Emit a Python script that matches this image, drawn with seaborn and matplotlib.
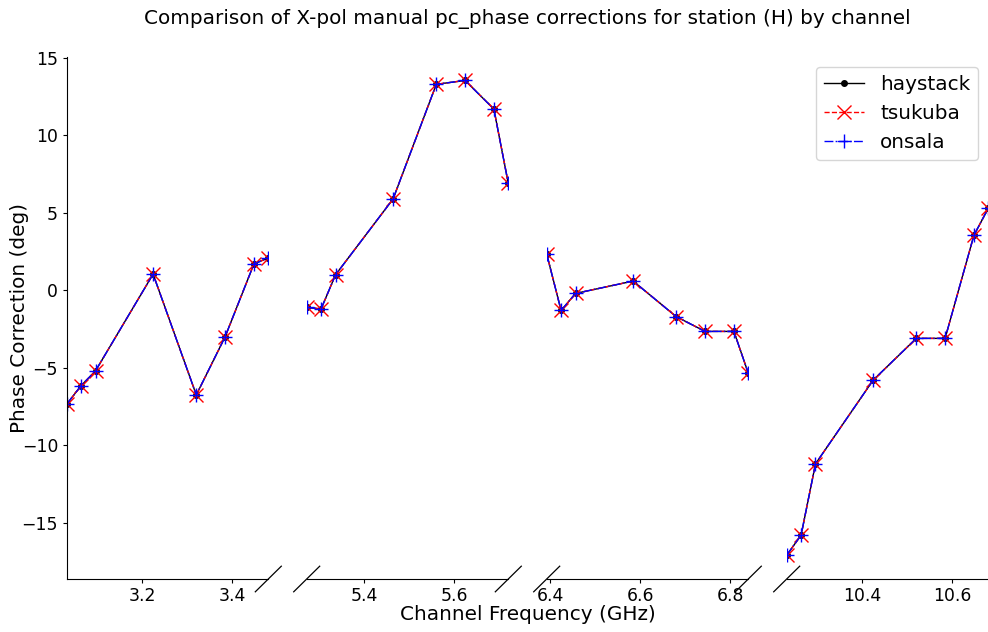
import matplotlib
matplotlib.use("Agg")
import matplotlib.pyplot as plt
import seaborn as sns
import pandas as pd
from matplotlib.lines import Line2D

# ---- data ----
band_a = [3.0324, 3.0644, 3.0964, 3.2244, 3.3204, 3.3844, 3.4484, 3.4804]
band_b = [5.2724, 5.3044, 5.3364, 5.4644, 5.5604, 5.6244, 5.6884, 5.7204]
band_c = [6.3924, 6.4244, 6.4564, 6.5844, 6.6804, 6.7444, 6.8084, 6.8404]
band_d = [10.2324, 10.2644, 10.2964, 10.4244, 10.5204, 10.5844, 10.6484, 10.6804]

haystack = [-7.35, -6.15, -5.2, 1.05, -6.75, -3.0, 1.7, 2.1,
            -1.1, -1.2, 1.0, 5.9, 13.3, 13.55, 11.7, 6.9,
            2.35, -1.3, -0.2, 0.6, -1.7, -2.65, -2.65, -5.35,
            -17.1, -15.8, -11.2, -5.8, -3.1, -3.1, 3.55, 5.3]
tsukuba = [-7.35, -6.15, -5.2, 1.05, -6.75, -3.0, 1.7, 2.1,
           -1.1, -1.2, 1.0, 5.9, 13.3, 13.55, 11.7, 6.9,
           2.35, -1.3, -0.2, 0.6, -1.7, -2.65, -2.65, -5.35,
           -17.1, -15.8, -11.2, -5.8, -3.1, -3.1, 3.55, 5.3]
onsala = [-7.35, -6.15, -5.2, 1.05, -6.75, -3.0, 1.7, 2.1,
          -1.1, -1.2, 1.0, 5.9, 13.3, 13.55, 11.7, 6.9,
          2.35, -1.3, -0.2, 0.6, -1.7, -2.65, -2.65, -5.35,
          -17.1, -15.8, -11.2, -5.8, -3.1, -3.1, 3.55, 5.3]

xticks_a = [3.2, 3.4]
xticks_b = [5.4, 5.6]
xticks_c = [6.4, 6.6, 6.8]
xticks_d = [10.4, 10.6]
yticks = [-15, -10, -5, 0, 5, 10, 15]

bands = [band_a, band_b, band_c, band_d]
band_ticks = [xticks_a, xticks_b, xticks_c, xticks_d]
freqs = band_a + band_b + band_c + band_d
df = pd.DataFrame({"freq": freqs, "haystack": haystack,
                   "tsukuba": tsukuba, "onsala": onsala})

series_styles = [
    ("haystack", dict(color="black", linestyle="-", marker=".", markersize=8,
                      markeredgecolor="black", markerfacecolor="black", markeredgewidth=1)),
    ("tsukuba", dict(color="red", linestyle="--", marker="x", markersize=10,
                     markeredgecolor="red", markeredgewidth=1)),
    ("onsala", dict(color="blue", linestyle=(0, (6.4, 1.6, 1.0, 1.6)), marker="+",
                    markersize=10, markeredgecolor="blue", markeredgewidth=1)),
]

FS = 14.4
plt.rcParams.update({
    "font.family": ["DejaVu Sans"],
    "axes.unicode_minus": True,
    "xtick.labelsize": 12.4,
    "ytick.labelsize": 12.4,
    "xtick.major.size": 3.0,
    "ytick.major.size": 3.0,
    "xtick.major.pad": 3.0,
    "ytick.major.pad": 3.2,
})

W, H = 988, 632
fig = plt.figure(figsize=(W / 100, H / 100), dpi=100)
fig.patch.set_facecolor("white")

ax_top, ax_bot = 56.7, 579.0
pw = 201.6
lefts = [66.7, 306.7, 546.7, 786.7]

axes = []
for i, (band, ticks) in enumerate(zip(bands, band_ticks)):
    rect = [lefts[i] / W, 1 - ax_bot / H, pw / W, (ax_bot - ax_top) / H]
    ax = fig.add_axes(rect, sharey=axes[0] if axes else None)
    sub = df[df["freq"].isin(band)]
    for name, st in series_styles:
        sns.lineplot(data=sub, x="freq", y=name, ax=ax, linewidth=1,
                     label=name if i == 3 else None, legend=False, **st)
    ax.set_xlim(min(band), max(band))
    ax.set_xticks(ticks)
    ax.set_xticklabels([f"{t:g}" for t in ticks])
    ax.set_xlabel("")
    ax.set_ylabel("")
    ax.spines["top"].set_visible(False)
    ax.spines["right"].set_visible(False)
    if i > 0:
        ax.spines["left"].set_visible(False)
        ax.tick_params(axis="y", left=False, labelleft=False)
    ax.set_facecolor("none")
    axes.append(ax)

axes[0].set_yticks(yticks)
axes[0].set_yticklabels([f"{t}".replace("-", "\u2212") for t in yticks])

# legend on last panel
handles, labels = axes[3].get_legend_handles_labels()
axes[3].legend(handles, labels, loc="upper right", fontsize=FS)

# break marks
def brk(cx, cy):
    dx, dy = 13, 12.8
    fig.add_artist(Line2D([(cx - dx) / W, (cx + dx) / W],
                          [1 - (cy + dy) / H, 1 - (cy - dy) / H],
                          color="black", linewidth=0.9, transform=fig.transFigure))

for i in range(4):
    if i < 3:
        brk(lefts[i] + pw, ax_bot)
    if i > 0:
        brk(lefts[i], ax_bot)

fig.text(527.5 / W, 1 - 24 / H,
         "Comparison of X-pol manual pc_phase corrections for station (H) by channel",
         ha="center", va="baseline", fontsize=FS)
fig.text(527.5 / W, 1 - 619.5 / H, "Channel Frequency (GHz)",
         ha="center", va="baseline", fontsize=FS)
fig.text(20 / W, 1 - 318 / H, "Phase Correction (deg)", rotation=90,
         ha="center", va="center", fontsize=FS)

fig.savefig("out.png", dpi=100, facecolor="white")
